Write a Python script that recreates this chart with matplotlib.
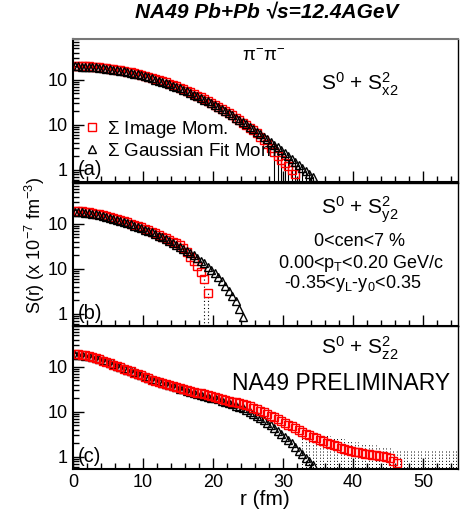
import numpy as np
import matplotlib
matplotlib.use('Agg')
import matplotlib.pyplot as plt
from matplotlib.ticker import FixedLocator, FixedFormatter, LogLocator, NullFormatter, MultipleLocator

plt.rcParams['font.family'] = ['Liberation Sans', 'DejaVu Sans']
plt.rcParams['mathtext.fontset'] = 'custom'
plt.rcParams['mathtext.rm'] = 'Liberation Sans'
plt.rcParams['mathtext.it'] = 'Liberation Sans:italic'
plt.rcParams['mathtext.default'] = 'regular'

# r bin centres (fm), 0.5 fm bins
r_bins = np.arange(0.25, 55.0, 0.5)

# --- panel (a): S0 + Sx2 ---
img_a = [205, 204, 203, 202, 199, 197, 194, 191, 187, 183, 179, 174, 169, 164, 158, 152,
         147, 141, 135, 129, 123, 117, 111, 105, 99.0, 93.3, 87.6, 82.1, 76.7, 71.5, 66.4,
         61.6, 56.9, 52.6, 48.4, 44.5, 40.8, 37.3, 34.0, 30.9, 28.0, 25.3, 22.8, 20.5, 18.3,
         16.3, 14.5, 12.8, 11.3, 9.9, 8.7, 7.6, 6.61, 5.50, 4.57, 3.80, 3.09, 2.45, 2.00,
         1.66, 1.41, 1.20, 1.00, 0.794]
gaus_a = [200, 199, 198, 197, 195, 192, 190, 186, 183, 179, 175, 170, 165, 160, 155, 149,
          144, 138, 132, 126, 120, 114, 108, 102, 96.6, 91.0, 85.4, 80.0, 74.8, 69.7, 64.8,
          60.1, 55.6, 51.4, 47.3, 43.5, 39.9, 36.5, 33.3, 30.3, 27.5, 24.9, 22.5, 20.3, 18.2,
          16.3, 14.6, 13.0, 11.6, 10.3, 9.15, 8.09, 7.13, 6.27, 5.50, 4.82, 4.21, 3.66, 3.18,
          2.76, 2.39, 2.06, 1.77, 1.52, 1.31, 1.12, 0.952, 0.809, 0.687]

# --- panel (b): S0 + Sy2 ---
img_b = [191, 191, 191, 186, 182, 178, 170, 162, 155, 148, 141, 135, 129, 123, 115, 110,
         102, 95.5, 89.1, 83.2, 77.6, 72.4, 67.6, 61.7, 57.5, 52.5, 47.9, 43.7, 39.8, 37.2,
         33.9, 29.5, 24.0, 18.6, 14.8, 11.5, 8.71, 5.89, 2.95]
gaus_b = [182, 182, 182, 178, 174, 170, 162, 155, 148, 141, 135, 129, 123, 117, 110, 105,
          97.7, 91.2, 85.1, 79.4, 74.1, 69.2, 64.6, 58.9, 55.0, 50.1, 45.7, 41.7, 38.0, 34.7,
          30.9, 28.2, 25.1, 22.4, 20.0, 17.4, 15.1, 13.2, 11.2, 9.55, 8.13, 6.76, 5.50, 4.27,
          3.31, 2.51, 1.91, 1.32, 0.851]

# --- panel (c): S0 + Sz2 ---
img_c = [190, 190, 186, 182, 174, 166, 158, 148, 138, 129, 120, 112, 105, 97.7, 91.2, 85.1,
         79.4, 74.1, 69.2, 64.6, 60.3, 56.2, 52.5, 49.0, 46.8, 43.7, 41.7, 39.8, 37.2, 35.5,
         33.9, 32.4, 30.9, 29.5, 28.2, 26.9, 25.7, 24.5, 23.4, 22.4, 21.4, 20.4, 19.5, 18.6,
         17.8, 17.0, 16.2, 15.5, 14.8, 14.1, 13.2, 12.3, 11.5, 10.7, 10.0, 9.12, 8.32, 7.59,
         6.92, 6.31, 5.75, 5.25, 4.79, 4.37, 3.98, 3.63, 3.31, 3.02, 2.75, 2.57, 2.40, 2.24,
         2.09, 1.95, 1.82, 1.74, 1.62, 1.51, 1.45, 1.38, 1.32, 1.26, 1.23, 1.17, 1.15, 1.12,
         1.10, 1.07, 1.05, 1.00, 0.933, 0.832, 0.724]
gaus_c = [186, 186, 182, 178, 174, 166, 158, 151, 141, 132, 123, 115, 107, 100, 93.3, 87.1,
          81.3, 75.9, 70.8, 66.1, 61.7, 57.5, 53.7, 50.1, 47.9, 44.7, 41.7, 39.8, 37.2, 35.5,
          33.1, 31.6, 29.5, 28.2, 26.3, 25.1, 24.0, 22.9, 21.9, 20.9, 20.0, 19.1, 17.8, 17.0,
          15.8, 14.8, 13.8, 12.9, 12.0, 11.0, 10.0, 9.12, 8.32, 7.41, 6.61, 5.75, 5.01, 4.37,
          3.80, 3.24, 2.75, 2.34, 2.00, 1.66, 1.38, 1.15, 0.955, 0.794, 0.661]
# upper ends of the (dotted) error bars of the image moments at large r, panel (c)
err_c_top = [3.7, 3.6, 3.5, 3.4, 3.3, 3.2, 3.1, 3.0, 2.9, 2.8, 2.7, 2.6, 2.5, 2.4, 2.3,
             2.2, 2.1, 2.0, 1.95, 1.9, 1.85, 1.8, 1.75, 1.7, 1.6, 1.55, 1.5, 1.45, 1.45, 1.45,
             1.45, 1.45, 1.45, 1.45, 1.45, 1.45, 1.45, 1.45, 1.45, 1.45, 1.45, 1.45, 1.45, 1.45, 1.45]
err_floor = 0.3

ylo, yhi = 0.54, 810

fig = plt.figure(figsize=(4.61, 5.12), dpi=100)
x0, w, h = 73 / 461, 385 / 461, 143 / 512
ax_a = fig.add_axes([x0, 1 - 182 / 512, w, h])
ax_b = fig.add_axes([x0, 1 - 326 / 512, w, h])
ax_c = fig.add_axes([x0, 1 - 469 / 512, w, h])

sq = dict(ls='none', marker='s', ms=5.2, mfc='none', mec='red', mew=1.0)
tri = dict(ls='none', marker='^', ms=5.4, mfc='none', mec='black', mew=1.0)
dots = (0, (1, 2.2))


def style(ax, xlabels=False):
    ax.set_yscale('log')
    ax.set_xlim(0, 55)
    ax.set_ylim(ylo, yhi)
    ax.yaxis.set_major_locator(FixedLocator([1, 10, 100]))
    ax.yaxis.set_major_formatter(FixedFormatter(['1', '10', '10']))
    ax.yaxis.set_minor_locator(LogLocator(base=10, subs=np.arange(2, 10)))
    ax.yaxis.set_minor_formatter(NullFormatter())
    ax.xaxis.set_major_locator(MultipleLocator(10))
    ax.xaxis.set_minor_locator(MultipleLocator(2))
    ax.tick_params(which='both', direction='in', top=False, right=False, labelsize=13)
    ax.tick_params(which='major', length=8, width=1)
    ax.tick_params(which='minor', length=4, width=1)
    ax.tick_params(axis='y', pad=4)
    if not xlabels:
        ax.tick_params(axis='x', labelbottom=False)
    for s in ['left', 'bottom']:
        ax.spines[s].set_linewidth(1.5)
    for s in ['top', 'right']:
        ax.spines[s].set_linewidth(1.0)


# (a)
n = len(gaus_a)
ax_a.vlines(r_bins[57:n], err_floor, gaus_a[57:], colors='black', lw=0.8)
ax_a.plot(r_bins[:len(img_a)], img_a, label=r'$\Sigma$ Image Mom.', **sq)
ax_a.plot(r_bins[:n], gaus_a, label=r'$\Sigma$ Gaussian Fit Mom.', **tri)
style(ax_a)
ax_a.spines['top'].set_color('#777777')
ax_a.spines['top'].set_linewidth(1.5)
ax_a.legend(loc='upper left', bbox_to_anchor=(-0.005, 0.52), frameon=False, fontsize=13.5,
            handletextpad=0.3, labelspacing=0.15, borderaxespad=0.2, handlelength=1.0)
ax_a.text(0.496, 0.88, 'π$^{-}$π$^{-}$', transform=ax_a.transAxes, ha='center', va='center', fontsize=13.5)
ax_a.text(0.645, 0.685, r'S$^{0}$ + S$^{2}_{x2}$', transform=ax_a.transAxes, ha='left', va='center', fontsize=15)
ax_a.text(0.012, 0.09, '(a)', transform=ax_a.transAxes, ha='left', va='center', fontsize=14.5)

# (b)
nb = len(img_b)
ax_b.vlines(r_bins[nb - 2:nb], err_floor, img_b[nb - 2:], colors='black', lw=0.8, linestyles=dots)
ax_b.plot(r_bins[:nb], img_b, **sq)
ax_b.plot(r_bins[:len(gaus_b)], gaus_b, **tri)
style(ax_b)
ax_b.text(0.645, 0.815, r'S$^{0}$ + S$^{2}_{y2}$', transform=ax_b.transAxes, ha='left', va='center', fontsize=15)
ax_b.text(0.745, 0.59, '0<cen<7 %', transform=ax_b.transAxes, ha='center', va='center', fontsize=13)
ax_b.text(0.748, 0.44, r'0.00<p$_{T}$<0.20 GeV/c', transform=ax_b.transAxes, ha='center', va='center', fontsize=13)
ax_b.text(0.727, 0.30, r'-0.35<y$_{L}$-y$_{0}$<0.35', transform=ax_b.transAxes, ha='center', va='center', fontsize=13)
ax_b.text(0.012, 0.09, '(b)', transform=ax_b.transAxes, ha='left', va='center', fontsize=14.5)

# (c)
k0 = 65
ax_c.vlines(r_bins[k0:k0 + len(err_c_top)], err_floor, err_c_top, colors='black', lw=0.7, linestyles=dots)
ax_c.plot(r_bins[:len(gaus_c)], gaus_c, **tri)
ax_c.plot(r_bins[:len(img_c)], img_c, **sq)
style(ax_c, xlabels=True)
ax_c.text(0.645, 0.845, r'S$^{0}$ + S$^{2}_{z2}$', transform=ax_c.transAxes, ha='left', va='center', fontsize=15)
ax_c.text(0.697, 0.60, 'NA49 PRELIMINARY', transform=ax_c.transAxes, ha='center', va='center', fontsize=16.5)
ax_c.text(0.012, 0.09, '(c)', transform=ax_c.transAxes, ha='left', va='center', fontsize=14.5)

fig.text(0.579, 0.975, 'NA49 Pb+Pb √s=12.4AGeV', ha='center', va='center',
         fontsize=15, fontweight='bold', fontstyle='italic')
fig.text(0.076, 0.52, r'S(r) (x 10$^{-7}$ fm$^{-3}$)', rotation=90, ha='center', va='center', fontsize=13)
fig.text(0.575, 0.024, 'r (fm)', ha='center', va='center', fontsize=15)

fig.savefig('out.png', dpi=100)
